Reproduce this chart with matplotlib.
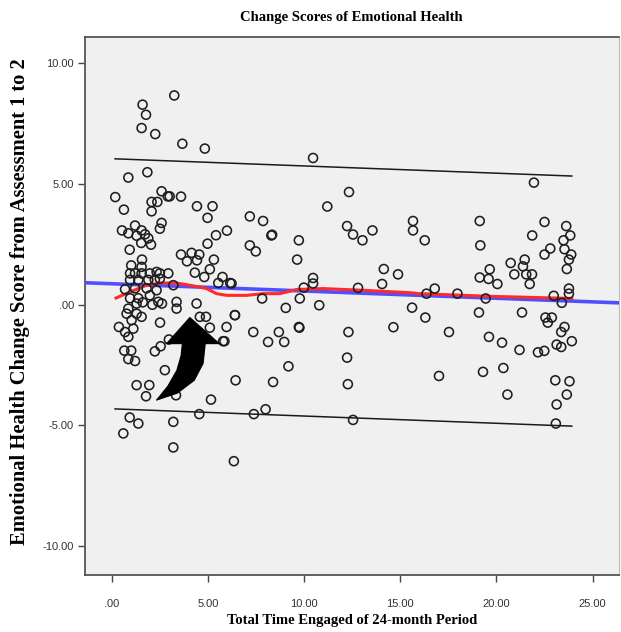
# SPSS-style scatter: change scores of emotional health vs time engaged

import matplotlib
matplotlib.use("Agg")
import matplotlib.pyplot as plt
from matplotlib.patches import Polygon
import numpy as np

# scatter points (months engaged, change score)
time_engaged = [
  3.24, 1.59, 1.77, 1.54, 2.25, 3.66, 4.83,
  0.85, 1.84, 0.17, 2.58, 2.90, 3.00, 3.59,
  0.62, 2.06, 2.36, 2.06, 4.42, 5.23, 4.97,
  0.52, 1.20, 0.85, 1.54, 1.28, 1.72, 1.89, 1.52, 2.03,
  2.58, 2.49, 0.92, 5.41, 5.98, 4.97, 3.59, 4.14, 3.90, 4.54, 4.42, 5.30,
  1.56, 1.54, 5.09, 4.31, 4.80, 5.75, 6.15, 5.53, 3.19,
  0.94, 1.20, 1.54, 1.97, 2.32, 2.49, 2.93, 1.00,
  0.94, 1.37, 1.89, 2.23, 2.49,
  0.68, 1.20, 1.80, 2.32,
  0.94, 1.37, 1.97, 2.41, 1.28, 1.60, 2.10,
  3.36, 3.36, 4.40, 2.60,
  0.85, 0.76, 1.28, 1.54, 1.02, 0.36, 0.68, 1.11, 0.85,
  2.50, 4.57, 4.89, 5.09, 5.96, 6.40, 5.78, 5.85, 2.96, 2.53, 2.23,
  0.64, 1.00, 0.85, 1.20, 2.75, 1.28, 1.94, 1.77, 3.33, 5.15, 6.43,
  4.54, 0.92, 1.37, 0.59, 3.19, 3.19, 6.34,
  10.46, 12.33, 11.20, 7.17, 7.86, 8.29, 8.33, 9.72, 7.17, 7.48, 9.63,
  12.23, 12.54, 13.03, 13.55, 15.66, 15.66, 14.14, 14.88, 14.05, 12.80,
  10.46, 10.46, 9.98, 9.77, 10.78, 7.81, 9.04, 6.22, 6.39, 15.61,
  7.35, 8.12, 8.68, 8.96, 9.72, 9.75, 12.30, 14.64,
  9.18, 12.23, 8.38, 12.27, 7.38, 7.99, 12.54,
  21.95, 16.27, 19.13, 19.16, 22.50, 21.86, 23.63, 23.84, 23.49, 22.80,
  22.50, 23.54, 23.89, 23.77, 23.66,
  20.74, 21.47, 21.38, 20.93, 21.55, 21.85, 21.73, 19.65, 19.13, 19.59, 20.05,
  16.79, 16.36, 17.97, 19.44, 23.77, 23.77, 22.98, 23.40,
  16.30, 19.09, 21.33, 22.55, 22.88, 22.67,
  17.53, 19.61, 20.29, 21.20, 22.16, 22.49, 23.54, 23.37, 23.92, 23.13, 23.37,
  17.01, 19.30, 20.36, 20.57, 23.06, 23.80, 23.66, 23.13, 23.09,
]
change_score = [
  8.67, 8.29, 7.87, 7.32, 7.07, 6.67, 6.47,
  5.27, 5.49, 4.46, 4.70, 4.49, 4.49, 4.48,
  3.94, 4.26, 4.26, 3.87, 4.08, 4.08, 3.60,
  3.08, 3.28, 2.96, 3.08, 2.86, 2.92, 2.75, 2.56, 2.49,
  3.39, 3.15, 2.28, 2.88, 3.07, 2.53, 2.08, 2.15, 1.80, 2.08, 1.84, 1.87,
  1.87, 1.57, 1.47, 1.33, 1.15, 1.15, 0.90, 0.90, 0.81,
  1.30, 1.30, 1.30, 1.30, 1.36, 1.30, 1.30, 1.63,
  1.03, 1.03, 1.03, 1.03, 1.08,
  0.64, 0.68, 0.68, 0.60,
  0.27, 0.27, 0.39, 0.12, 0.05, 0.10, 0.00,
  0.12, -0.16, 0.05, 0.05,
  -0.16, -0.37, -0.37, -0.50, -0.64, -0.92, -1.13, -0.99, -1.33,
  -0.74, -0.50, -0.50, -0.95, -0.92, -0.43, -1.51, -1.51, -1.44, -1.72, -1.93,
  -1.90, -1.90, -2.25, -2.33, -2.71, -3.33, -3.33, -3.79, -3.75, -3.93, -3.13,
  -4.53, -4.67, -4.92, -5.33, -4.85, -5.91, -6.48,
  6.08, 4.67, 4.07, 3.66, 3.47, 2.87, 2.90, 2.67, 2.46, 2.21, 1.87,
  3.26, 2.91, 2.67, 3.08, 3.47, 3.08, 1.48, 1.26, 0.86, 0.70,
  1.11, 0.88, 0.71, 0.26, -0.02, 0.26, -0.13, 0.88, -0.43, -0.12,
  -1.13, -1.54, -1.13, -1.54, -0.92, -0.95, -1.13, -0.93,
  -2.55, -2.19, -3.20, -3.29, -4.53, -4.33, -4.77,
  5.06, 2.67, 3.47, 2.46, 3.43, 2.87, 3.26, 2.87, 2.67, 2.33,
  2.08, 2.30, 2.08, 1.87, 1.48,
  1.73, 1.87, 1.59, 1.26, 1.26, 1.26, 0.86, 1.47, 1.13, 1.07, 0.86,
  0.67, 0.46, 0.46, 0.26, 0.67, 0.46, 0.37, 0.08,
  -0.53, -0.32, -0.32, -0.53, -0.53, -0.74,
  -1.13, -1.33, -1.57, -1.87, -1.97, -1.91, -0.92, -1.13, -1.51, -1.65, -1.75,
  -2.95, -2.78, -2.62, -3.72, -3.13, -3.17, -3.72, -4.13, -4.92,
]

# linear fit (blue) and its 95% individual interval (black)
fit_intercept = 0.87
fit_slope = -0.030
interval_half_width = 5.18
interval_x_range = [0.16, 23.92]

# loess curve (red)
loess_x = [0.21, 0.94, 1.80, 2.49, 3.36, 4.05, 4.92, 5.44, 5.96, 7.00, 7.86, 8.73,
           9.60, 10.98, 13.06, 15.50, 16.00, 19.65, 23.92]
loess_y = [0.28, 0.53, 0.81, 0.90, 0.90, 0.81, 0.67, 0.46, 0.39, 0.39, 0.46, 0.46,
           0.63, 0.67, 0.60, 0.50, 0.46, 0.35, 0.26]

# black callout arrow drawn on top of the chart
arrow_x = [2.32, 2.90, 3.38, 3.60, 3.66, 2.84, 4.05, 5.58, 4.85, 4.74, 4.28, 3.40]
arrow_y = [-3.95, -3.38, -2.71, -2.09, -1.61, -1.61, -0.53, -1.61, -1.61, -2.43, -3.13, -3.66]

y_ticks = [-10, -5, 0, 5, 10]
y_tick_labels = ["-10.00", "-5.00", ".00", "5.00", "10.00"]
x_ticks = [0, 5, 10, 15, 20, 25]
x_tick_labels = [".00", "5.00", "10.00", "15.00", "20.00", "25.00"]


def main():
  fig = plt.figure(figsize=(6.21, 6.32), dpi=100)
  ax = fig.add_axes([0.137, 0.090, 0.859, 0.851])
  ax.set_facecolor('#f0f0f0')

  xlim = (-1.4, 26.35)
  ax.set_xlim(*xlim)
  ax.set_ylim(-11.2, 11.08)

  # fit line across the whole axis
  fx = np.array(xlim)
  ax.plot(fx, fit_intercept + fit_slope * fx, color='#4f4fff', linewidth=2.6, zorder=3)

  # interval lines
  ix = np.array(interval_x_range)
  ax.plot(ix, fit_intercept + fit_slope * ix + interval_half_width, color='#1a1a1a', linewidth=1.1, zorder=2)
  ax.plot(ix, fit_intercept + fit_slope * ix - interval_half_width, color='#1a1a1a', linewidth=1.1, zorder=2)

  ax.plot(loess_x, loess_y, color='#ff2a2a', linewidth=2.2, zorder=4)

  ax.scatter(time_engaged, change_score, s=42, facecolors='none', edgecolors='#1e1e1e',
             linewidths=1.15, zorder=5)

  arrow = Polygon(list(zip(arrow_x, arrow_y)), closed=True, facecolor='black',
                  edgecolor='black', linewidth=0.8, joinstyle='round', zorder=6)
  ax.add_patch(arrow)

  # ticks and frame
  ax.set_yticks(y_ticks)
  ax.set_yticklabels(y_tick_labels)
  ax.set_xticks(x_ticks)
  ax.set_xticklabels(x_tick_labels)
  ax.tick_params(direction='out', length=5, width=1, color='#444444', labelcolor='#333333',
                 labelsize=8, pad=3)
  for label in ax.get_xticklabels() + ax.get_yticklabels():
    label.set_fontfamily('Liberation Sans')
  ax.tick_params(axis='x', pad=12)
  for side in ['left', 'bottom', 'top']:
    ax.spines[side].set_color('#555555')
    ax.spines[side].set_linewidth(1.3)
  ax.spines['right'].set_color('#bbbbbb')

  serif = {'family': 'Liberation Serif', 'weight': 'bold'}
  fig.text(0.565, 0.972, 'Change Scores of Emotional Health', ha='center', va='center',
           fontsize=10.5, fontdict=serif)
  fig.text(0.567, 0.018, 'Total Time Engaged of 24-month Period', ha='center', va='center',
           fontsize=10.5, fontdict=serif)
  fig.text(0.032, 0.523, 'Emotional Health Change Score from Assessment 1 to 2', ha='center',
           va='center', rotation=90, fontsize=14.8, fontdict=serif)

  plt.savefig('out.png', dpi=100)


if __name__ == "__main__":
  main()
